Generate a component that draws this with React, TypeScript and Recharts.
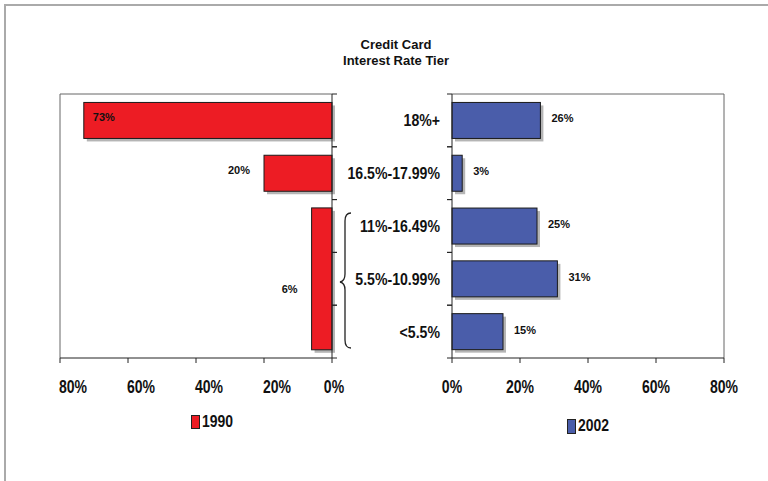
import { BarChart, Bar, XAxis, YAxis, LabelList, ReferenceLine } from 'recharts';

const categories = ['18%+', '16.5%-17.99%', '11%-16.49%', '5.5%-10.99%', '<5.5%'];
const values1990 = [73, 20, null, 6, null];
// in 1990 the three lowest tiers were reported as one 6% group
const combined1990 = ['11%-16.49%', '5.5%-10.99%', '<5.5%'];
const values2002 = [26, 3, 25, 31, 15];
const xTicks = [0, 20, 40, 60, 80];

const data1990 = categories.map((tier, i) => ({ tier, value: values1990[i] }));
const data2002 = categories.map((tier, i) => ({ tier, value: values2002[i] }));

const ARIAL = "'Liberation Sans', Arial, sans-serif";
const RED = '#ED1C24';
const BLUE = '#4A5DAA';
const BOX = '#666';
const AXIS = '#222';
const GAP = 0.16;
const PLOT_TOP = 94;
const PLOT_H = 264;

function ShadowBar(props: any) {
  const { x, y, width, height, fill, payload } = props;
  if (width == null || height == null) return null;
  const left = Math.min(x, x + width);
  const w = Math.abs(width);
  let top = y;
  let h = height;
  const idx = combined1990.indexOf(payload?.tier);
  if (props.grouped && idx >= 0) {
    const band = height / (1 - 2 * GAP);
    top = y - idx * band;
    h = height + (combined1990.length - 1) * band;
  }
  return (
    <g>
      <rect x={left + 3} y={top + 3} width={w} height={h} fill="#b5b5b5" />
      <rect x={left} y={top} width={w} height={h} fill={fill} stroke="#1a1a1a" strokeWidth={1} />
    </g>
  );
}

function LeftLabel(props: any) {
  const { x, y, width, height, value } = props;
  if (value == null) return null;
  const left = Math.min(x, x + width);
  const inside = left - 45 < 60;
  const grouped = !inside && value < 10;
  return (
    <text
      x={inside ? left + 9 : left - 14}
      y={y + height / 2 + (grouped ? 10 : -3)}
      textAnchor={inside ? 'start' : 'end'}
      dominantBaseline="central"
      fontFamily={ARIAL}
      fontSize={11}
      fontWeight="bold"
      fill="#111"
    >
      {value}%
    </text>
  );
}

function RightLabel(props: any) {
  const { x, y, width, height, value } = props;
  if (value == null) return null;
  return (
    <text
      x={x + width + 11}
      y={y + height / 2 - 2}
      textAnchor="start"
      dominantBaseline="central"
      fontFamily={ARIAL}
      fontSize={11}
      fontWeight="bold"
      fill="#111"
    >
      {value}%
    </text>
  );
}

// narrow bold text (no Arial Narrow available, so squeeze Liberation Sans)
function Narrow({ x, y, size, anchor, children, dy }: any) {
  return (
    <text
      transform={`translate(${x},${y}) scale(0.78,1)`}
      dy={dy}
      textAnchor={anchor}
      fontFamily={ARIAL}
      fontSize={size}
      fontWeight="bold"
      fill="#111"
    >
      {children}
    </text>
  );
}

function PercentTick(props: any) {
  const { x, y, payload, shift } = props;
  const dx = shift ? (payload.value === 0 ? 2 : 13) : 0;
  return (
    <Narrow x={x + dx} y={y} size={18} anchor="middle" dy="0.75em">
      {payload.value}%
    </Narrow>
  );
}

// tick marks sit between the tiers, not on them
function TierTick(props: any) {
  const { x, y, payload, side, showLabel } = props;
  const half = payload.offset || PLOT_H / categories.length / 2;
  const c = payload.coordinate ?? y;
  const dir = side === 'right' ? 1 : -1;
  return (
    <g>
      <line x1={x} x2={x + dir * 5} y1={c - half} y2={c - half} stroke={AXIS} />
      <line x1={x} x2={x + dir * 5} y1={c + half} y2={c + half} stroke={AXIS} />
      {showLabel && (
        <g transform={`translate(${x - 12},${y}) scale(0.83,1)`}>
          <text textAnchor="end" dominantBaseline="central" fontFamily={ARIAL} fontSize={17} fontWeight="bold" fill="#111">
            {payload.value}
          </text>
        </g>
      )}
    </g>
  );
}

export default function App() {
  const legendText = { fontFamily: ARIAL, fontSize: 17, fontWeight: 'bold' as const, color: '#111', display: 'inline-block', transform: 'scaleX(0.82)', transformOrigin: 'left center' };
  return (
    <div style={{ position: 'absolute', left: 0, top: 0, width: 768, height: 481, background: '#fff', overflow: 'hidden' }}>
      <div style={{ position: 'absolute', left: 4, top: 4, width: 770, height: 2, background: '#aaa' }} />
      <div style={{ position: 'absolute', left: 4, top: 4, width: 2, height: 480, background: '#aaa' }} />

      <div
        style={{
          position: 'absolute',
          left: 296,
          top: 37,
          width: 200,
          textAlign: 'center',
          fontFamily: ARIAL,
          fontSize: 13,
          fontWeight: 'bold',
          lineHeight: '16px',
          color: '#111',
        }}
      >
        Credit Card
        <br />
        Interest Rate Tier
      </div>

      <div style={{ position: 'absolute', left: 0, top: 0 }}>
        <BarChart
          width={360}
          height={410}
          data={data1990}
          layout="vertical"
          margin={{ top: PLOT_TOP, right: 20, bottom: 12, left: 60 }}
          barCategoryGap={`${GAP * 100}%`}
        >
          <XAxis
            type="number"
            domain={[0, 80]}
            ticks={xTicks}
            reversed
            height={40}
            tickSize={5}
            tickMargin={16}
            stroke={AXIS}
            tick={<PercentTick shift />}
          />
          <YAxis
            type="category"
            dataKey="tier"
            orientation="right"
            width={8}
            tickSize={0}
            tickMargin={0}
            tickLine={false}
            stroke={AXIS}
            tick={<TierTick side="right" />}
          />
          <ReferenceLine x={80} stroke={BOX} />
          <ReferenceLine y={categories[0]} position="start" stroke={BOX} />
          <Bar dataKey="value" fill={RED} isAnimationActive={false} shape={(p: any) => <ShadowBar {...p} grouped />}>
            <LabelList dataKey="value" content={<LeftLabel />} />
          </Bar>
        </BarChart>
      </div>

      <svg style={{ position: 'absolute', left: 0, top: 0 }} width={768} height={481} pointerEvents="none">
        <path
          d="M351,213 Q345,213 345,221 L345,274 Q345,281 340,282 Q345,283 345,290 L345,340 Q345,348 351,348"
          fill="none"
          stroke="#222"
          strokeWidth={1.3}
        />
      </svg>

      <div style={{ position: 'absolute', left: 330, top: 0 }}>
        <BarChart
          width={430}
          height={410}
          data={data2002}
          layout="vertical"
          margin={{ top: PLOT_TOP, right: 36, bottom: 12, left: 12 }}
          barCategoryGap={`${GAP * 100}%`}
        >
          <XAxis type="number" domain={[0, 80]} ticks={xTicks} height={40} tickSize={5} tickMargin={16} stroke={AXIS} tick={<PercentTick />} />
          <YAxis
            type="category"
            dataKey="tier"
            width={110}
            tickSize={0}
            tickMargin={0}
            tickLine={false}
            stroke={AXIS}
            tick={<TierTick side="left" showLabel />}
          />
          <ReferenceLine x={80} stroke={BOX} />
          <ReferenceLine y={categories[0]} position="start" stroke={BOX} />
          <Bar dataKey="value" fill={BLUE} isAnimationActive={false} shape={(p: any) => <ShadowBar {...p} />}>
            <LabelList dataKey="value" content={<RightLabel />} />
          </Bar>
        </BarChart>
      </div>

      <div style={{ position: 'absolute', left: 191, top: 412, display: 'flex', alignItems: 'center', gap: 2 }}>
        <span style={{ width: 7, height: 12, background: RED, border: '1px solid #222', display: 'inline-block' }} />
        <span style={legendText}>1990</span>
      </div>
      <div style={{ position: 'absolute', left: 567, top: 416, display: 'flex', alignItems: 'center', gap: 2 }}>
        <span style={{ width: 7, height: 13, background: BLUE, border: '1px solid #222', display: 'inline-block' }} />
        <span style={legendText}>2002</span>
      </div>
    </div>
  );
}
